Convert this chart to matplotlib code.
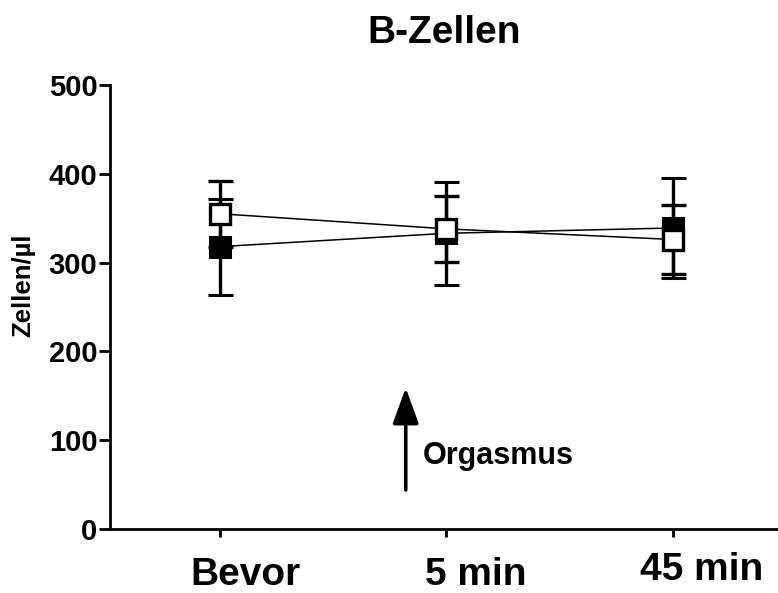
import matplotlib
matplotlib.use("Agg")
import matplotlib.pyplot as plt
from matplotlib.transforms import offset_copy

plt.rcParams['font.family'] = ['Liberation Sans', 'DejaVu Sans']
plt.rcParams['font.weight'] = 'bold'

# Data
categories = ["Bevor", "5 min", "45 min"]
filled_mean = [318, 333, 339]
filled_sem = [54, 58, 56]
open_mean = [355, 338, 326]
open_sem = [37, 37, 39]
yticks = [0, 100, 200, 300, 400, 500]
title = "B-Zellen"
ylabel = "Zellen/µl"
annot = "Orgasmus"
arrow_x = 0.82
arrow_from, arrow_to = 44, 159

fig = plt.figure(figsize=(7.78, 5.93), dpi=100)
ax = fig.add_axes([110/778, 64/593, 668/778, 444/593])

x = list(range(len(categories)))

ax.errorbar(x, filled_mean, yerr=filled_sem, fmt='-s', color='black',
            mfc='black', mec='black', ms=15, mew=2.2, lw=1.1,
            elinewidth=2.4, capsize=9, capthick=2.4, zorder=3)
ax.errorbar(x, open_mean, yerr=open_sem, fmt='-s', color='black',
            mfc='white', mec='black', ms=15, mew=2.4, lw=1.1,
            elinewidth=2.4, capsize=9, capthick=2.4, zorder=4)

ax.set_xlim(-0.486, 2.464)
ax.set_ylim(0, 500)
ax.set_yticks(yticks)
ax.set_yticklabels([str(v) for v in yticks], fontsize=21, fontweight='bold')
ax.set_xticks(x)
ax.set_xticklabels([])

for s in ['top', 'right']:
    ax.spines[s].set_visible(False)
for s in ['left', 'bottom']:
    ax.spines[s].set_linewidth(2)
ax.tick_params(axis='y', direction='out', length=8, width=2, pad=1)
ax.tick_params(axis='x', direction='out', length=6, width=2)

# category labels (offset to the right as in the reference)
base = ax.get_xaxis_transform()
for i, lab in enumerate(categories):
    dy = -51 if i == 2 else -56
    tr = offset_copy(base, fig=fig, x=29 if i else 25, y=dy, units='dots')
    ax.text(i, 0, lab, transform=tr, ha='center', va='baseline',
            fontsize=28, fontweight='bold', clip_on=False)

ax.set_title(title, fontsize=28, fontweight='bold', pad=30)
ax.set_ylabel(ylabel, fontsize=18.5, fontweight='bold')
ax.yaxis.set_label_coords(-0.112, 0.55)

ax.annotate('', xy=(arrow_x, arrow_to), xytext=(arrow_x, arrow_from),
            arrowprops=dict(arrowstyle='-|>,head_length=2.2,head_width=0.8',
                            color='black', lw=2.6, shrinkA=0, shrinkB=0))
ax.text(arrow_x + 0.075, 73, annot, fontsize=22, fontweight='bold',
        ha='left', va='baseline')

fig.savefig('out.png', dpi=100)
